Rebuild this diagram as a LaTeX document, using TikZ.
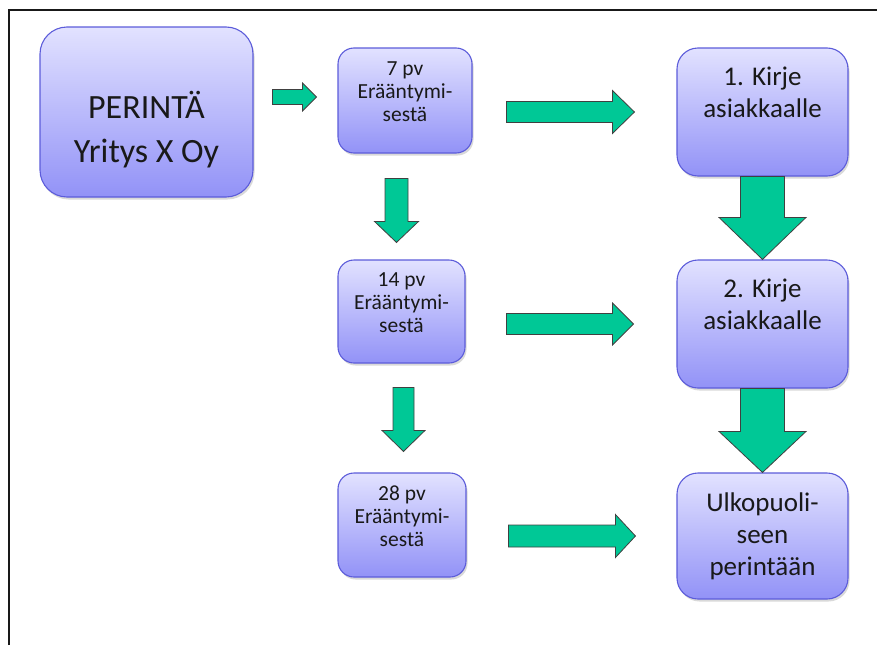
\documentclass[tikz,border=0pt]{standalone}
\usepackage{fontspec}
\setmainfont{Carlito}
\usetikzlibrary{calc, shadows}

\definecolor{boxtop}{RGB}{226,226,255}
\definecolor{boxbot}{RGB}{146,146,247}
\definecolor{boxline}{RGB}{92,92,218}
\definecolor{arrowfill}{RGB}{0,200,150}
\definecolor{textcol}{RGB}{25,25,25}

% extra space above the first line / below the last line of a box text
\newcommand{\droptext}[1]{\rule{0pt}{#1}}
\newcommand{\lifttext}[1]{\rule[-#1]{0pt}{#1}}

% block arrow: from, to, shaft half width, head half width, head length
\newcommand{\blockarrow}[5]{%
    \coordinate (ba-s) at (#1);
    \coordinate (ba-t) at (#2);
    \coordinate (ba-h) at ($(ba-t)!#5pt!(ba-s)$);
    \draw [blockarrow] ($(ba-s)!#3pt!90:(ba-t)$) -- ($(ba-h)!#3pt!90:(ba-t)$)
        -- ($(ba-h)!#4pt!90:(ba-t)$) -- (ba-t) -- ($(ba-h)!#4pt!-90:(ba-t)$)
        -- ($(ba-h)!#3pt!-90:(ba-t)$) -- ($(ba-s)!#3pt!-90:(ba-t)$) -- cycle;
}

\begin{document}
\begin{tikzpicture}[
        x=1pt, y=-1pt,
        box/.style={rectangle, draw=boxline, line width=1.1pt, top color=boxtop, bottom color=boxbot,
            align=center, text=textcol, inner sep=0pt,
            drop shadow={shadow xshift=1.5pt, shadow yshift=-2.5pt, opacity=.25, fill=black!60}},
        mainbox/.style={box, rounded corners=27pt, minimum width=213pt, minimum height=170pt,
            font=\fontsize{34}{44}\selectfont},
        daybox/.style={box, rounded corners=16pt, minimum height=104pt,
            font=\fontsize{21.5}{23}\selectfont},
        stepbox/.style={box, rounded corners=21pt, minimum width=171pt, minimum height=128pt,
            font=\fontsize{27}{32}\selectfont},
        blockarrow/.style={fill=arrowfill, draw=black!75, line width=0.8pt, line join=miter},
        frame/.style={draw=black!90, line width=1.5pt}
    ]

    \useasboundingbox (0,0) rectangle (877,645);
    \draw [frame] (9,645) -- (9,10) -- (877,10);

    \node (perinta) [mainbox] at (146.5,112) {\droptext{62pt}PERINTÄ\\Yritys X Oy};

    \node (day7) [daybox, minimum width=134pt, minimum height=105pt] at (405,100.5) {7 pv\\Erääntymi-\\sestä\lifttext{18pt}};
    \node (day14) [daybox, minimum width=127pt, minimum height=103pt] at (401.5,311.5) {14 pv\\Erääntymi-\\sestä\lifttext{18pt}};
    \node (day28) [daybox, minimum width=128pt] at (402,525) {28 pv\\Erääntymi-\\sestä\lifttext{18pt}};

    \node (letter1) [stepbox] at (762.5,112) {1. Kirje\\asiakkaalle\lifttext{40pt}};
    \node (letter2) [stepbox] at (762.5,324) {2. Kirje\\asiakkaalle\lifttext{40pt}};
    \node (outside) [stepbox, minimum height=126pt] at (762.5,536) {Ulkopuoli-\\seen\\perintään};

    \blockarrow{$(day7.west)+(-65,-3.5)$}{$(day7.west)+(-21,-3.5)$}{7.5}{14}{14}
    \blockarrow{$(letter1.west)+(-170,0)$}{$(letter1.west)+(-42,0)$}{10.5}{21.5}{22}
    \blockarrow{$(letter2.west)+(-170,0)$}{$(letter2.west)+(-43,0)$}{10.5}{21}{21}
    \blockarrow{$(outside.west)+(-168,0)$}{$(outside.west)+(-41,0)$}{11}{21.5}{20}

    \blockarrow{$(day7.south)+(-8.5,25)$}{$(day14.north)+(-5,-17)$}{11.5}{22}{21}
    \blockarrow{$(day14.south)+(2,24)$}{$(day28.north)+(1.5,-21)$}{10.5}{21.5}{21}

    \blockarrow{letter1.south}{letter2.north}{22}{43.5}{42}
    \blockarrow{letter2.south}{outside.north}{22}{43.5}{41}

\end{tikzpicture}
\end{document}
